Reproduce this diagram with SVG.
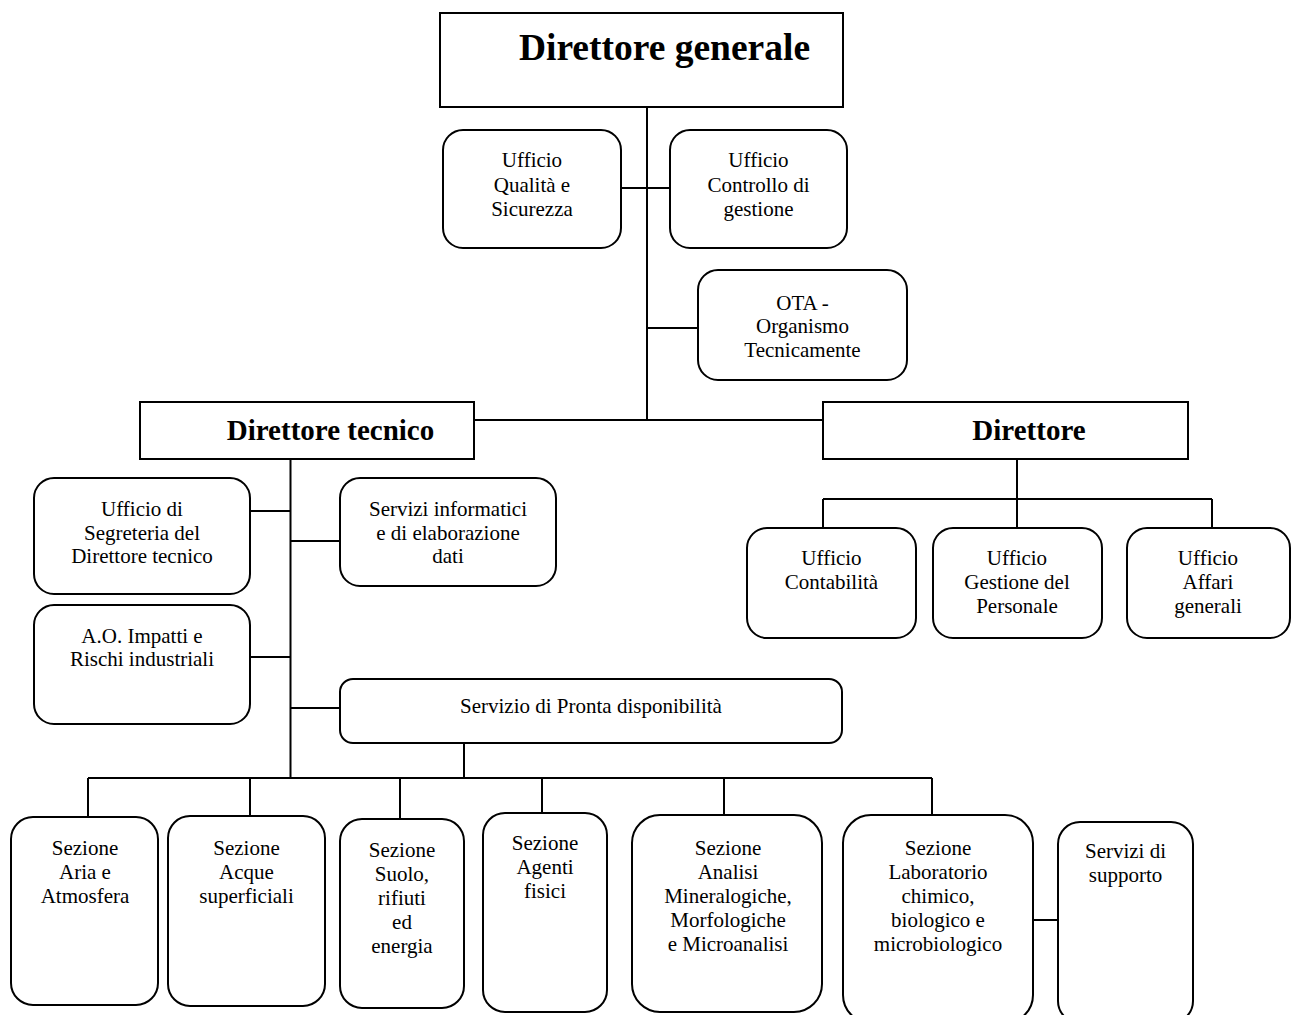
<svg xmlns="http://www.w3.org/2000/svg" width="1291" height="1015" viewBox="0 0 1291 1015">
<style>
  .box { fill: #fff; stroke: #000; stroke-width: 2; }
  .ln { stroke: #000; stroke-width: 2; fill: none; }
  text { font-family: "Liberation Serif", "Times New Roman", serif; font-size: 21px; fill: #000; text-anchor: middle; }
  .b { font-weight: bold; font-size: 29px; }
  .big { font-weight: bold; font-size: 37.5px; }
</style>
<rect width="1291" height="1015" fill="#fff"/>
<g id="connectors">
  <path class="ln" d="M647 107 V420"/>
  <path class="ln" d="M621 188 H670"/>
  <path class="ln" d="M647 328 H698"/>
  <path class="ln" d="M474 420 H823"/>
  <path class="ln" d="M1017 459 V499 M823 499 H1212 M823 499 V528 M1017 499 V528 M1212 499 V528"/>
  <path class="ln" d="M290.5 459 V778"/>
  <path class="ln" d="M250 511 H290.5 M290.5 541 H340 M250 657 H290.5 M290.5 708 H340"/>
  <path class="ln" d="M464 743 V778"/>
  <path class="ln" d="M88 778 H932 M88 778 V817 M250 778 V816 M400 778 V819 M542 778 V813 M724 778 V815 M932 778 V815"/>
  <path class="ln" d="M1032 920 H1057"/>
</g>
<g id="direttore-generale">
  <rect class="box" x="440" y="13" width="403" height="94"/>
  <text class="big" x="664.5" y="60">Direttore generale</text>
</g>
<g id="ufficio-qualita">
  <rect class="box" x="443" y="130" width="178" height="118" rx="20"/>
  <text x="532" y="167">Ufficio</text>
  <text x="532" y="192">Qualità e</text>
  <text x="532" y="216">Sicurezza</text>
</g>
<g id="ufficio-controllo">
  <rect class="box" x="670" y="130" width="177" height="118" rx="20"/>
  <text x="758.5" y="167">Ufficio</text>
  <text x="758.5" y="192">Controllo di</text>
  <text x="758.5" y="216">gestione</text>
</g>
<g id="ota">
  <rect class="box" x="698" y="270" width="209" height="110" rx="20"/>
  <text x="802.5" y="310">OTA -</text>
  <text x="802.5" y="333">Organismo</text>
  <text x="802.5" y="357">Tecnicamente</text>
</g>
<g id="direttore-tecnico">
  <rect class="box" x="140" y="402" width="334" height="57"/>
  <text class="b" x="330.5" y="440">Direttore tecnico</text>
</g>
<g id="direttore">
  <rect class="box" x="823" y="402" width="365" height="57"/>
  <text class="b" x="1029" y="440">Direttore</text>
</g>
<g id="ufficio-contabilita">
  <rect class="box" x="747" y="528" width="169" height="110" rx="20"/>
  <text x="831.5" y="565">Ufficio</text>
  <text x="831.5" y="589">Contabilità</text>
</g>
<g id="ufficio-personale">
  <rect class="box" x="933" y="528" width="169" height="110" rx="20"/>
  <text x="1017" y="565">Ufficio</text>
  <text x="1017" y="589">Gestione del</text>
  <text x="1017" y="613">Personale</text>
</g>
<g id="ufficio-affari">
  <rect class="box" x="1127" y="528" width="163" height="110" rx="20"/>
  <text x="1208" y="565">Ufficio</text>
  <text x="1208" y="589">Affari</text>
  <text x="1208" y="613">generali</text>
</g>
<g id="ufficio-segreteria">
  <rect class="box" x="34" y="478" width="216" height="116" rx="20"/>
  <text x="142" y="516">Ufficio di</text>
  <text x="142" y="540">Segreteria del</text>
  <text x="142" y="563">Direttore tecnico</text>
</g>
<g id="servizi-informatici">
  <rect class="box" x="340" y="478" width="216" height="108" rx="20"/>
  <text x="448" y="516">Servizi informatici</text>
  <text x="448" y="540">e di elaborazione</text>
  <text x="448" y="563">dati</text>
</g>
<g id="ao-impatti">
  <rect class="box" x="34" y="605" width="216" height="119" rx="20"/>
  <text x="142" y="643">A.O. Impatti e</text>
  <text x="142" y="666">Rischi industriali</text>
</g>
<g id="pronta-disponibilita">
  <rect class="box" x="340" y="679" width="502" height="64" rx="13"/>
  <text x="591" y="713">Servizio di Pronta disponibilità</text>
</g>
<g id="sezione-aria">
  <rect class="box" x="11" y="817" width="147" height="188" rx="22"/>
  <text x="85" y="855">Sezione</text>
  <text x="85" y="879">Aria e</text>
  <text x="85" y="903">Atmosfera</text>
</g>
<g id="sezione-acque">
  <rect class="box" x="168" y="816" width="157" height="190" rx="22"/>
  <text x="246.5" y="855">Sezione</text>
  <text x="246.5" y="879">Acque</text>
  <text x="246.5" y="903">superficiali</text>
</g>
<g id="sezione-suolo">
  <rect class="box" x="340" y="819" width="124" height="189" rx="22"/>
  <text x="402" y="857">Sezione</text>
  <text x="402" y="881">Suolo,</text>
  <text x="402" y="905">rifiuti</text>
  <text x="402" y="929">ed</text>
  <text x="402" y="953">energia</text>
</g>
<g id="sezione-agenti">
  <rect class="box" x="483" y="813" width="124" height="199" rx="22"/>
  <text x="545" y="850">Sezione</text>
  <text x="545" y="874">Agenti</text>
  <text x="545" y="898">fisici</text>
</g>
<g id="sezione-analisi">
  <rect class="box" x="632" y="815" width="190" height="197" rx="28"/>
  <text x="728" y="855">Sezione</text>
  <text x="728" y="879">Analisi</text>
  <text x="728" y="903">Mineralogiche,</text>
  <text x="728" y="927">Morfologiche</text>
  <text x="728" y="951">e Microanalisi</text>
</g>
<g id="sezione-laboratorio">
  <rect class="box" x="843" y="815" width="190" height="208" rx="28"/>
  <text x="938" y="855">Sezione</text>
  <text x="938" y="879">Laboratorio</text>
  <text x="938" y="903">chimico,</text>
  <text x="938" y="927">biologico e</text>
  <text x="938" y="951">microbiologico</text>
</g>
<g id="servizi-supporto">
  <rect class="box" x="1058" y="822" width="135" height="201" rx="22"/>
  <text x="1125.5" y="858">Servizi di</text>
  <text x="1125.5" y="882">supporto</text>
</g>
</svg>
